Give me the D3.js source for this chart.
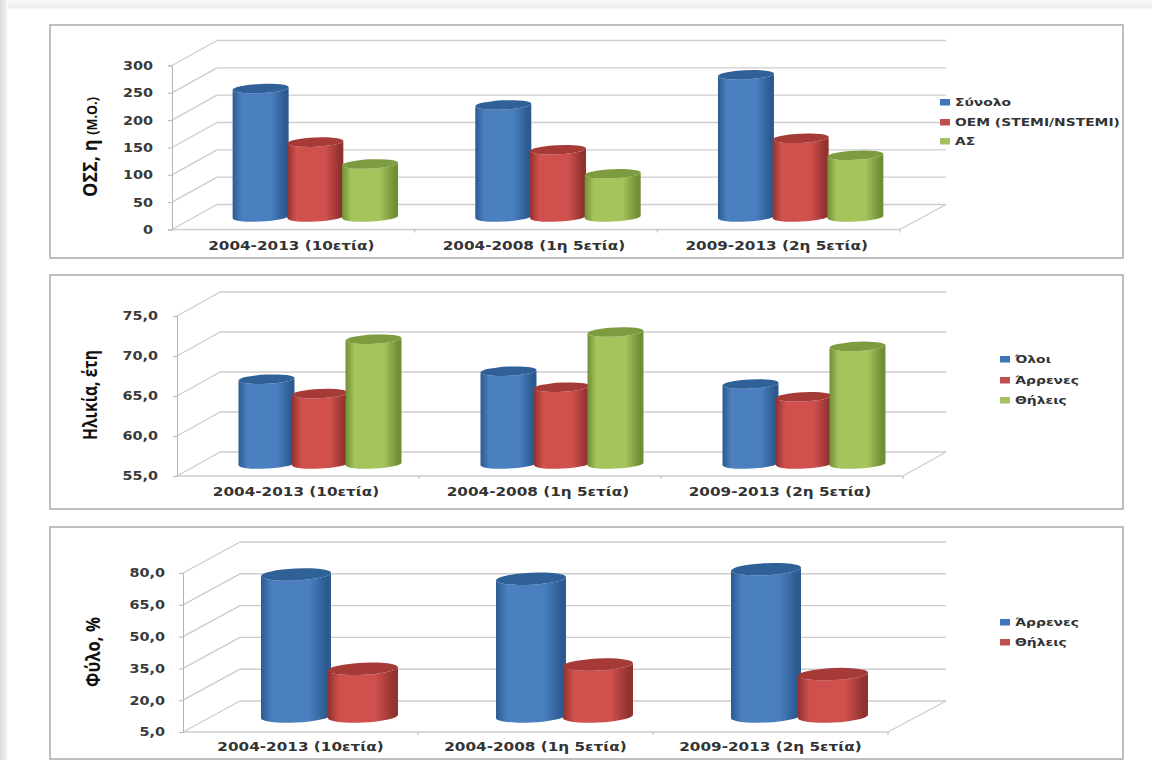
<!DOCTYPE html>
<html>
<head>
<meta charset="utf-8">
<script src="https://cdn.jsdelivr.net/npm/d3@7"></script>
<style>
html,body{margin:0;padding:0;background:#fff;}
svg{display:block;}
text{font-family:"DejaVu Sans",sans-serif;font-weight:700;fill:#333;}
</style>
</head>
<body>
<svg id="chart" width="1152" height="760"></svg>
<script>
// Category labels shared by the three panels
const periods = ["2004-2013 (10ετία)", "2004-2008 (1η 5ετία)", "2009-2013 (2η 5ετία)"];

// Panel 1: mean count by period
const countNames = ["Σύνολο", "ΟΕΜ (STEMI/NSTEMI)", "ΑΣ"];
const countTotal = [235, 205, 260];
const countMi = [137, 123, 144];
const countAs = [97, 79, 113];
const countTicks = [0, 50, 100, 150, 200, 250, 300];

// Panel 2: age by period
const ageNames = ["Όλοι", "Άρρενες", "Θήλεις"];
const ageAll = [65.6, 66.6, 65.0];
const ageMen = [63.8, 64.6, 63.4];
const ageWomen = [70.6, 71.5, 69.7];
const ageTicks = [55, 60, 65, 70, 75];

// Panel 3: sex split by period
const sexNames = ["Άρρενες", "Θήλεις"];
const sexMen = [72, 70, 74.5];
const sexWomen = [27.5, 29.5, 25];
const sexTicks = [5, 20, 35, 50, 65, 80];

const palette = [
  {edge: "#2c5a90", mid: "#4a80c0", top: "#2f6098", key: "#3f78b8"},
  {edge: "#90322f", mid: "#d0504d", top: "#a53a37", key: "#c0504d"},
  {edge: "#6f8f35", mid: "#a4c45c", top: "#7d9c3f", key: "#a5c05f"}
];

const comma1 = v => d3.format(".1f")(v).replace(".", ",");

// Frame and plot geometry for each panel
const panels = [
  {
    frame: [50, 25, 1123, 258], title: "ΟΣΣ, η ", titleSmall: "(Μ.Ο.)", titleLen: 100, titleX: 97, titleY: 147,
    names: countNames, series: [countTotal, countMi, countAs], ticks: countTicks,
    tickFormat: d3.format("d"), domain: [0, 300], tickPad: 15,
    x0: 172, x1: 900, yBottom: 229.5, yTop: 65.5, depthX: 45, depthY: 25,
    barW: 56, barStep: 54.7, ry: 4.6, shift: 22, labelY: 250, labelDx: -2,
    legendX: 940, legendY: [102, 122, 141]
  },
  {
    frame: [50, 275, 1123, 509], title: "Ηλικία, έτη", titleSmall: "", titleLen: 90, titleX: 97, titleY: 395,
    names: ageNames, series: [ageAll, ageMen, ageWomen], ticks: ageTicks,
    tickFormat: comma1, domain: [55, 75], tickPad: 15,
    x0: 177, x1: 903, yBottom: 476, yTop: 316, depthX: 43, depthY: 24,
    barW: 56, barStep: 53.5, ry: 4.6, shift: 22, labelY: 496, labelDx: -2,
    legendX: 1000, legendY: [359, 380, 400]
  },
  {
    frame: [50, 527, 1123, 759], title: "Φύλο, %", titleSmall: "", titleLen: 70, titleX: 100, titleY: 652,
    names: sexNames, series: [sexMen, sexWomen], ticks: sexTicks,
    tickFormat: comma1, domain: [5, 80], tickPad: 14,
    x0: 183, x1: 888, yBottom: 732, yTop: 573, depthX: 57, depthY: 31,
    barW: 70, barStep: 67, ry: 6, shift: 29, labelY: 751, labelDx: 0,
    legendX: 1000, legendY: [622, 642]
  }
];

const svg = d3.select("#chart");
const defs = svg.append("defs");

// Horizontal shading that gives each cylinder its rounded look
palette.forEach((c, i) => {
  const g = defs.append("linearGradient").attr("id", "body" + i);
  [[0, c.edge], [0.16, c.mid], [0.68, c.mid], [0.94, c.edge], [1, c.edge]].forEach(([o, col]) =>
    g.append("stop").attr("offset", o).attr("stop-color", col));
});

// Soft grey page edge on the left and along the top
const edgeL = defs.append("linearGradient").attr("id", "edgeL");
edgeL.append("stop").attr("offset", 0).attr("stop-color", "#dcdcdc");
edgeL.append("stop").attr("offset", 0.8).attr("stop-color", "#f0f0f0");
edgeL.append("stop").attr("offset", 1).attr("stop-color", "#ffffff");
const edgeT = defs.append("linearGradient").attr("id", "edgeT").attr("x2", 0).attr("y2", 1);
edgeT.append("stop").attr("offset", 0).attr("stop-color", "#f8f8f8");
edgeT.append("stop").attr("offset", 0.85).attr("stop-color", "#ececec");
edgeT.append("stop").attr("offset", 1).attr("stop-color", "#ffffff");
svg.append("rect").attr("width", 1152).attr("height", 9).attr("fill", "url(#edgeT)");
svg.append("rect").attr("width", 8).attr("height", 760).attr("fill", "url(#edgeL)");

panels.forEach(drawPanel);

// Widens or narrows a text element to a multiple of its natural width
function stretch(sel, factor) {
  sel.each(function () {
    const w = this.getComputedTextLength();
    d3.select(this).attr("textLength", w * factor).attr("lengthAdjust", "spacingAndGlyphs");
  });
}

function drawPanel(p) {
  const g = svg.append("g");
  const [fx0, fy0, fx1, fy1] = p.frame;

  g.append("rect")
    .attr("x", fx0).attr("y", fy0)
    .attr("width", fx1 - fx0).attr("height", fy1 - fy0)
    .attr("fill", "#fff").attr("stroke", "#b0b0b0").attr("stroke-width", 1.6);

  const y = d3.scaleLinear().domain(p.domain).range([p.yBottom, p.yTop]);
  const x = d3.scaleBand().domain(periods).range([p.x0, p.x1]);
  const inner = d3.scaleLinear().domain([0, p.series.length]).range([0, p.barStep * p.series.length]);
  const grid = "#cdcdcd";
  const wallRight = 946;

  // Back wall gridlines and left wall diagonals
  g.selectAll("line.back").data(p.ticks).join("line")
    .attr("x1", p.x0 + p.depthX).attr("x2", wallRight)
    .attr("y1", d => y(d) - p.depthY).attr("y2", d => y(d) - p.depthY)
    .attr("stroke", grid).attr("stroke-width", 1.4);
  g.selectAll("line.wall").data(p.ticks).join("line")
    .attr("x1", p.x0).attr("x2", p.x0 + p.depthX)
    .attr("y1", d => y(d)).attr("y2", d => y(d) - p.depthY)
    .attr("stroke", grid).attr("stroke-width", 1.4);

  // Floor edges
  g.append("line").attr("x1", p.x0).attr("x2", p.x1)
    .attr("y1", p.yBottom).attr("y2", p.yBottom)
    .attr("stroke", grid).attr("stroke-width", 1.4);
  g.append("line").attr("x1", p.x1).attr("x2", wallRight)
    .attr("y1", p.yBottom).attr("y2", p.yBottom - p.depthY)
    .attr("stroke", grid).attr("stroke-width", 1.4);

  // Value axis on the front left corner
  const axis = d3.axisLeft(y).tickValues(p.ticks).tickFormat(p.tickFormat).tickSize(4).tickPadding(p.tickPad);
  const ag = g.append("g").attr("transform", `translate(${p.x0},0)`).call(axis);
  ag.selectAll("path,line").attr("stroke", "#b5b5b5");
  ag.selectAll("text").attr("font-size", 12)
    .style("font-family", '"DejaVu Sans",sans-serif').style("font-weight", 700).style("fill", "#3a3a3a")
    .call(stretch, 1.2);

  // Category axis ticks and labels
  g.selectAll("line.cat").data(periods).join("line")
    .attr("x1", (d, i) => p.x0 + (i + 1) * x.step()).attr("x2", (d, i) => p.x0 + (i + 1) * x.step())
    .attr("y1", p.yBottom).attr("y2", p.yBottom + 3).attr("stroke", "#b5b5b5");
  g.selectAll("text.cat").data(periods).join("text")
    .attr("x", d => x(d) + x.bandwidth() / 2 + p.labelDx).attr("y", p.labelY)
    .attr("text-anchor", "middle").attr("font-size", 12.5)
    .text(d => d)
    .call(stretch, 1.22);

  // Cylinders, drawn at mid depth of the floor
  const clusterW = inner(p.series.length - 1) + p.barW;
  const midY = p.depthY / 2;
  p.series.forEach((vals, s) => {
    periods.forEach((cat, c) => {
      const left = x(cat) + x.bandwidth() / 2 + p.shift - clusterW / 2 + inner(s);
      const right = left + p.barW;
      const rx = p.barW / 2;
      const lift = p.ry * 0.28;
      const tiltDeg = -Math.atan2(2 * lift, p.barW) * 180 / Math.PI;
      const base = y(p.domain[0]) - midY;
      const top = y(vals[c]) - midY;
      g.append("path")
        .attr("d", `M${left},${top + lift} L${left},${base + lift}
          A${rx},${p.ry} ${tiltDeg} 0 0 ${right},${base - lift}
          L${right},${top - lift}
          A${rx},${p.ry} ${tiltDeg} 0 1 ${left},${top + lift} Z`)
        .attr("fill", `url(#body${s})`);
      g.append("path")
        .attr("d", `M${left},${top + lift}
          A${rx},${p.ry} ${tiltDeg} 0 1 ${right},${top - lift}
          A${rx},${p.ry} ${tiltDeg} 0 1 ${left},${top + lift} Z`)
        .attr("fill", palette[s].top);
    });
  });

  // Axis title
  const title = g.append("text")
    .attr("transform", `translate(${p.titleX},${p.titleY}) rotate(-90)`)
    .attr("text-anchor", "middle").attr("font-size", 20)
    .style("font-family", '"Open Sans",sans-serif').style("font-weight", 700).style("fill", "#111");
  title.append("tspan").text(p.title);
  if (p.titleSmall) title.append("tspan").attr("font-size", 14).text(p.titleSmall);
  title.attr("textLength", p.titleLen).attr("lengthAdjust", "spacingAndGlyphs");

  // Legend
  const lg = g.selectAll("g.key").data(p.names).join("g")
    .attr("transform", (d, i) => `translate(${p.legendX},${p.legendY[i]})`);
  lg.append("rect").attr("x", 0).attr("y", -3).attr("width", 10).attr("height", 6.5)
    .attr("fill", (d, i) => palette[i].key);
  lg.append("text").attr("x", 15).attr("y", 4).attr("font-size", 11)
    .text(d => d)
    .call(stretch, 1.26);
}
</script>
</body>
</html>
